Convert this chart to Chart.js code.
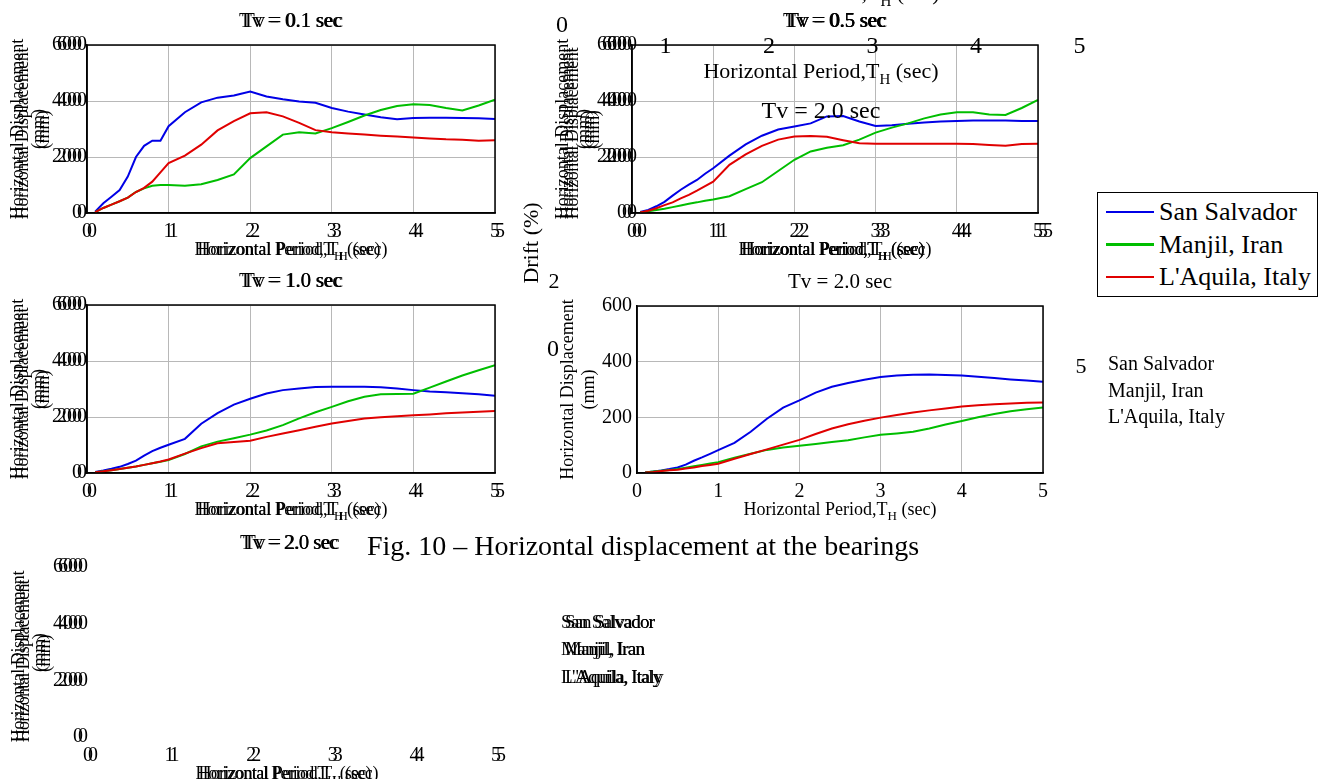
<!DOCTYPE html>
<html>
<head>
<meta charset="utf-8">
<script src="https://cdn.jsdelivr.net/npm/chart.js@4.4.1/dist/chart.umd.min.js"></script>
<style>
html, body { margin: 0; padding: 0; background: #fff; }
body { width: 1319px; height: 779px; position: relative; overflow: hidden; font-family: "Liberation Serif", "Times New Roman", serif; color: #000; }
canvas { position: absolute; }
#stray { left: 0; top: 0; z-index: 5; pointer-events: none; }
#legend { position: absolute; left: 1097px; top: 192px; width: 219px; height: 103px; border: 1.5px solid #000; background: #fff; z-index: 6; }
.row { position: absolute; left: 8px; height: 30px; display: flex; align-items: center; font-size: 26px; white-space: nowrap; }
.row i { display: inline-block; width: 48px; height: 2.5px; margin-right: 5px; }
</style>
</head>
<body>
<div id="legend"></div>
<script>
// periods (sec) shared by every curve
const periodT = [0.1, 0.2, 0.3, 0.4, 0.5, 0.6, 0.7, 0.8, 0.9, 1.0, 1.2, 1.4, 1.6, 1.8, 2.0, 2.2, 2.4, 2.6, 2.8, 3.0, 3.2, 3.4, 3.6, 3.8, 4.0, 4.2, 4.4, 4.6, 4.8, 5.0];

const seriesNames = ['San Salvador', 'Manjil, Iran', "L'Aquila, Italy"];
const seriesColors = ['#0000e6', '#00be00', '#e00000'];

// Tv = 0.1 sec
const tv01Salvador = [5, 35, 58, 82, 130, 200, 240, 258, 258, 310, 360, 395, 412, 420, 434, 416, 406, 398, 394, 375, 362, 352, 342, 335, 339, 340, 340, 339, 338, 336];
const tv01Manjil   = [3, 18, 30, 42, 55, 75, 88, 97, 100, 100, 97, 103, 118, 138, 196, 238, 280, 288, 284, 303, 325, 348, 368, 382, 388, 386, 375, 366, 384, 405];
const tv01Aquila   = [3, 18, 30, 42, 55, 75, 90, 112, 145, 178, 205, 244, 295, 328, 356, 360, 345, 322, 296, 288, 284, 280, 276, 273, 270, 266, 263, 262, 258, 260];

// Tv = 0.5 sec
const tv05Salvador = [4, 11, 24, 40, 62, 83, 101, 118, 140, 160, 205, 245, 276, 298, 309, 320, 345, 346, 327, 311, 313, 319, 323, 327, 329, 330, 330, 330, 329, 329];
const tv05Manjil   = [2, 6, 11, 15, 21, 27, 33, 38, 44, 48, 60, 85, 110, 150, 190, 220, 233, 242, 262, 287, 305, 320, 338, 352, 360, 360, 352, 350, 375, 404];
const tv05Aquila   = [2, 8, 17, 28, 38, 52, 65, 80, 96, 112, 172, 209, 240, 262, 273, 275, 272, 260, 249, 247, 247, 247, 247, 247, 247, 246, 243, 240, 246, 247];

// Tv = 1.0 sec
const tv10Salvador = [4, 9, 15, 22, 32, 44, 62, 78, 90, 101, 122, 176, 214, 244, 265, 284, 296, 302, 307, 308, 308, 308, 306, 302, 296, 291, 288, 285, 281, 276];
const tv10Manjil   = [3, 6, 10, 14, 19, 23, 29, 35, 40, 46, 68, 95, 112, 124, 137, 152, 171, 195, 217, 236, 256, 272, 281, 282, 283, 305, 327, 348, 367, 385];
const tv10Aquila   = [3, 6, 10, 14, 19, 23, 29, 35, 41, 48, 69, 89, 106, 111, 115, 129, 141, 153, 165, 177, 186, 195, 199, 203, 206, 209, 213, 216, 219, 221];

// Tv = 2.0 sec
const tv20Salvador = [2, 5, 9, 14, 20, 30, 44, 56, 69, 82, 108, 148, 195, 235, 261, 289, 310, 323, 335, 345, 350, 353, 354, 352, 350, 346, 341, 336, 332, 328];
const tv20Manjil   = [2, 5, 8, 11, 14, 19, 24, 29, 34, 39, 55, 69, 83, 92, 98, 104, 111, 118, 128, 137, 142, 148, 160, 174, 187, 200, 212, 222, 229, 235];
const tv20Aquila   = [2, 4, 7, 10, 12, 16, 20, 25, 29, 33, 51, 68, 85, 102, 119, 140, 160, 175, 188, 199, 208, 217, 225, 232, 239, 243, 247, 250, 252, 253];

// stray tick labels of the overlapping drift figure
const driftTicks = ['0', '1', '2', '3', '4', '5'];

const FONT = '"Liberation Serif"';
const PERIOD = ['Horizontal Period,T', 'H', ' (sec)'];

function setFont(ctx, size) { ctx.font = size + 'px ' + FONT; }

// plain width, used so that squeezed copies start where the normal text starts
function plainWidth(ctx, parts, size) {
    const old = ctx.letterSpacing;
    if ('letterSpacing' in ctx) ctx.letterSpacing = '0px';
    let w = 0;
    parts.forEach((p, i) => { setFont(ctx, i === 1 ? Math.round(size * 0.7) : size); w += ctx.measureText(p).width; });
    if ('letterSpacing' in ctx) ctx.letterSpacing = old;
    return w;
}

function drawParts(ctx, parts, x, cy, size) {
    ctx.textAlign = 'left'; ctx.textBaseline = 'middle';
    parts.forEach((p, i) => {
        const sub = i === 1;
        setFont(ctx, sub ? Math.round(size * 0.7) : size);
        ctx.fillText(p, x, cy + (sub ? size * 0.38 : 0));
        x += ctx.measureText(p).width;
    });
}

// titles, axis titles and the full box, placed from the chart area
const panelText = {
    id: 'panelText',
    afterDraw(chart, args, o) {
        const ctx = chart.ctx, a = chart.chartArea;
        const dx = o.dx || 0;
        const tdx = dx ? dx - 3 : 0;          // doubled titles sit ~3px apart
        const cx = (a.left + a.right) / 2 - tdx;
        ctx.save();
        ctx.fillStyle = '#000';
        if (o.box) {
            ctx.strokeStyle = '#000'; ctx.lineWidth = 1.5;
            ctx.strokeRect(a.left, a.top, a.right - a.left, a.bottom - a.top);
        }
        if ('letterSpacing' in ctx) ctx.letterSpacing = o.spacing || '0px';
        if (o.title) {
            drawParts(ctx, [o.title], cx - plainWidth(ctx, [o.title], 21) / 2, a.top - 24, 21);
        }
        drawParts(ctx, PERIOD, cx - plainWidth(ctx, PERIOD, 18) / 2, a.bottom + 37, 18);
        const yl = ['Horizontal Displacement'];
        ctx.translate(a.left - 69, (a.top + a.bottom) / 2);
        ctx.rotate(-Math.PI / 2);
        drawParts(ctx, yl, -plainWidth(ctx, yl, 18) / 2, 0, 18);
        drawParts(ctx, ['(mm)'], -plainWidth(ctx, ['(mm)'], 18) / 2, 21, 18);
        ctx.restore();
    }
};

function makePanel(box, opt) {
    const c = document.createElement('canvas');
    const w = box.R - box.L + 100, h = box.B - box.T + 100;
    c.width = w; c.height = h;
    c.style.width = w + 'px'; c.style.height = h + 'px';
    c.style.left = (box.L - 90 + (opt.dx || 0)) + 'px';
    c.style.top = (box.T - 40) + 'px';
    document.body.appendChild(c);

    const datasets = (opt.lines && box.data) ? box.data.map((vals, i) => ({
        label: seriesNames[i],
        data: periodT.map((t, k) => ({ x: t, y: vals[k] })),
        borderColor: seriesColors[i], borderWidth: 2, pointRadius: 0, tension: 0, fill: false,
        order: 2 - i
    })) : [];
    const tickFont = { family: 'Liberation Serif', size: 20 };

    new Chart(c, {
        type: 'line',
        data: { datasets },
        options: {
            responsive: false, animation: false, devicePixelRatio: 1,
            layout: { autoPadding: false, padding: { left: 0, top: 40, right: 10, bottom: 0 } },
            plugins: {
                legend: { display: false }, tooltip: { enabled: false }, title: { display: false },
                panelText: { title: opt.title, spacing: opt.spacing, box: opt.box, dx: opt.dx || 0 }
            },
            scales: {
                x: {
                    type: 'linear', min: 0, max: 5,
                    afterFit: s => { s.height = 60; },
                    ticks: { stepSize: 1, font: tickFont, color: '#000', padding: 7, maxRotation: 0 },
                    grid: { display: opt.box, color: '#b8b8b8', lineWidth: 1, drawTicks: false },
                    border: { display: opt.box, color: '#000', width: 1.5 }
                },
                y: {
                    type: 'linear', min: 0, max: 600,
                    afterFit: s => { s.width = 90; },
                    ticks: { stepSize: 200, font: tickFont, color: '#000', padding: 5 },
                    grid: { display: opt.box, color: '#b8b8b8', lineWidth: 1, drawTicks: false },
                    border: { display: opt.box, color: '#000', width: 1.5 }
                }
            }
        },
        plugins: [panelText]
    });
}

const panels = [
    { L: 87, T: 45, R: 497, B: 213, data: [tv01Salvador, tv01Manjil, tv01Aquila], title: 'Tv = 0.1 sec', ghosts: [5] },
    { L: 632, T: 45, R: 1040, B: 213, data: [tv05Salvador, tv05Manjil, tv05Aquila], title: 'Tv = 0.5 sec', ghosts: [5, 10] },
    { L: 87, T: 305, R: 497, B: 473, data: [tv10Salvador, tv10Manjil, tv10Aquila], title: 'Tv = 1.0 sec', ghosts: [5] },
    { L: 637, T: 306, R: 1045, B: 473, data: [tv20Salvador, tv20Manjil, tv20Aquila], title: 'Tv = 2.0 sec', ghosts: [] }
];

panels.forEach(p => {
    makePanel(p, { lines: true, box: true, title: p.title });
    p.ghosts.forEach(dx => makePanel(p, { lines: false, box: false, title: p.title, dx: dx, spacing: '-0.4px' }));
});

// empty copy of the last panel below the grid
const emptyPanel = { L: 88, T: 567, R: 498, B: 737 };
makePanel(emptyPanel, { lines: false, box: false, title: 'Tv = 2.0 sec', spacing: '-0.4px' });
makePanel(emptyPanel, { lines: false, box: false, title: 'Tv = 2.0 sec', dx: 5, spacing: '-0.8px' });

// legend
const legend = document.getElementById('legend');
seriesNames.forEach((name, i) => {
    const r = document.createElement('div');
    r.className = 'row';
    r.style.top = (4 + i * 32.5) + 'px';
    r.innerHTML = '<i style="background:' + seriesColors[i] + '"></i>' + name;
    legend.appendChild(r);
});

// stray text left over from other figures on the page
const stray = document.createElement('canvas');
stray.id = 'stray'; stray.width = 1319; stray.height = 779;
document.body.appendChild(stray);
const sctx = stray.getContext('2d');
sctx.fillStyle = '#000';

function put(parts, x, y, size, align, spacing) {
    if ('letterSpacing' in sctx) sctx.letterSpacing = spacing || '0px';
    const w = plainWidth(sctx, parts, size);
    drawParts(sctx, parts, align === 'left' ? x : x - w / 2, y, size);
}

driftTicks.forEach((t, i) => put([t], 562 + 103.5 * i, i === 0 ? 26 : 47, 24));
put(PERIOD, 822, -6, 22);
put(PERIOD, 821, 72, 22);
put(['Tv = 2.0 sec'], 821, 112, 24);
sctx.save();
sctx.translate(532, 243); sctx.rotate(-Math.PI / 2);
put(['Drift (%)'], 0, 0, 22);
sctx.restore();
put(['2'], 554, 282, 22);
put(['0'], 553, 350, 24);
put(['5'], 1081, 367, 22);
seriesNames.forEach((n, i) => put([n], 1108, 365 + 26.5 * i, 20, 'left'));
seriesNames.forEach((n, i) => {
    put([n], 561, 623 + 27.5 * i, 19, 'left', '-0.6px');
    put([n], 565, 623 + 27.5 * i, 19, 'left', '-1px');
});

// caption
put(['Fig. 10 \u2013 Horizontal displacement at the bearings'], 367, 548, 28, 'left');
</script>
</body>
</html>
